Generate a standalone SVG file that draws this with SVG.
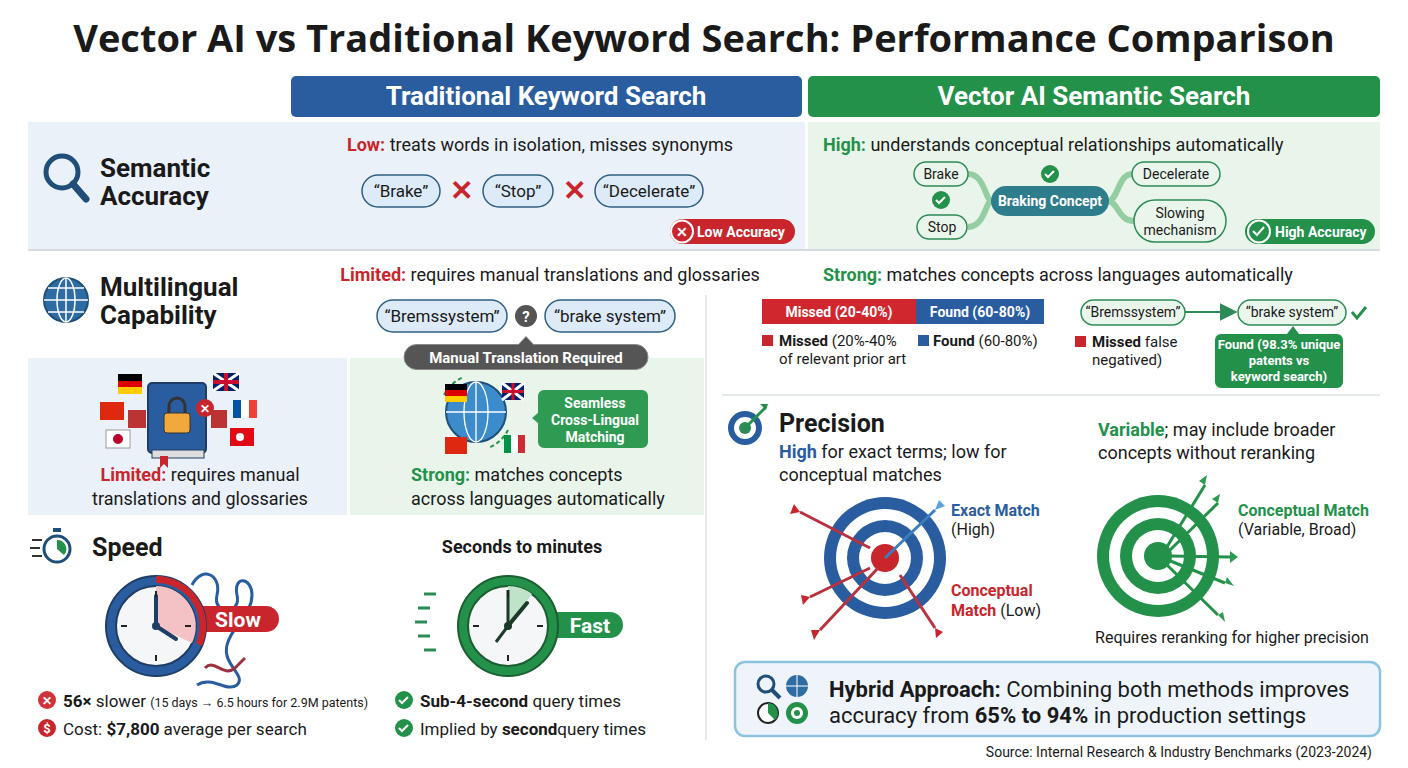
<svg xmlns="http://www.w3.org/2000/svg" width="1408" height="768" viewBox="0 0 1408 768">
<defs>
<style>
text{font-family:Roboto,"Liberation Sans",sans-serif;fill:#1a1a1a}
.t{font-size:18px}
.b{font-weight:bold}
.red{fill:#C8252C}.grn{fill:#23914A}.blu{fill:#2A5DA0}
.pill{fill:#DCEBF7;stroke:#2F5F80;stroke-width:1.5}
.gpill{fill:#EAF6EC;stroke:#2E8B57;stroke-width:1.5}
.hd{font-size:26px;font-weight:bold;fill:#fff}
.w{fill:#fff}
</style>
<marker id="ah" markerWidth="10" markerHeight="10" refX="8" refY="5" orient="auto"><path d="M0,0L10,5L0,10z" fill="#2E8B57"/></marker>
</defs>
<rect width="1408" height="768" fill="#fff"/>
<text x="704" y="52" text-anchor="middle" style="font-family:'Open Sans','Liberation Sans',sans-serif;font-size:38px;font-weight:bold">Vector AI vs Traditional Keyword Search: Performance Comparison</text>

<g id="headers">
<rect x="291" y="76" width="511" height="41" rx="5" fill="#2A5DA0"/>
<text x="546" y="105" text-anchor="middle" class="hd">Traditional Keyword Search</text>
<rect x="808" y="76" width="572" height="41" rx="5" fill="#23914A"/>
<text x="1094" y="105" text-anchor="middle" class="hd">Vector AI Semantic Search</text>
</g>

<g id="row-semantic">
<rect x="28" y="122" width="777" height="127" fill="#EAF1F8"/>
<rect x="808" y="122" width="572" height="127" fill="#E9F5EB"/>
<line x1="28" y1="250" x2="1380" y2="250" stroke="#d5dbe0" stroke-width="2"/>
<circle cx="62" cy="172" r="16" fill="none" stroke="#1F4E79" stroke-width="5"/>
<line x1="73" y1="184" x2="86" y2="199" stroke="#1F4E79" stroke-width="7" stroke-linecap="round"/>
<text x="100" y="177" class="b" font-size="26">Semantic</text>
<text x="100" y="205" class="b" font-size="26">Accuracy</text>
<text x="540" y="151" text-anchor="middle" class="t"><tspan class="red b">Low:</tspan> treats words in isolation, misses synonyms</text>
<rect x="362" y="175" width="78" height="32" rx="16" class="pill"/><text x="401" y="197" text-anchor="middle" font-size="17">“Brake”</text>
<text x="461" y="200" text-anchor="middle" font-size="28" class="red b">✕</text>
<rect x="483" y="175" width="70" height="32" rx="16" class="pill"/><text x="518" y="197" text-anchor="middle" font-size="17">“Stop”</text>
<text x="574" y="200" text-anchor="middle" font-size="28" class="red b">✕</text>
<rect x="595" y="175" width="108" height="32" rx="16" class="pill"/><text x="649" y="197" text-anchor="middle" font-size="17">“Decelerate”</text>
<rect x="670" y="219" width="125" height="25" rx="12.5" fill="#C8252C"/>
<circle cx="682" cy="231.5" r="11" fill="#C8252C" stroke="#fff" stroke-width="2"/>
<text x="682" y="237" text-anchor="middle" font-size="14" class="w b">✕</text>
<text x="697" y="237" font-size="14" class="w b">Low Accuracy</text>
<text x="823" y="151" class="t"><tspan class="grn b">High:</tspan> understands conceptual relationships automatically</text>
<g fill="none" stroke="#7FC48F" stroke-width="6" opacity="0.8">
<path d="M968,174 C985,174 985,201 992,201"/><path d="M968,227 C985,227 985,201 992,201"/>
<path d="M1108,201 C1118,201 1118,174 1132,174"/><path d="M1108,201 C1118,201 1118,221 1134,221"/>
</g>
<rect x="914" y="162" width="54" height="24" rx="12" class="gpill"/><text x="941" y="179" text-anchor="middle" font-size="14">Brake</text>
<rect x="917" y="215" width="50" height="24" rx="12" class="gpill"/><text x="942" y="232" text-anchor="middle" font-size="14">Stop</text>
<circle cx="941" cy="200" r="9" fill="#23914A"/><path d="M936,200l3,3l6,-6" stroke="#fff" stroke-width="2" fill="none"/>
<circle cx="1050" cy="174" r="9" fill="#23914A"/><path d="M1045,174l3,3l6,-6" stroke="#fff" stroke-width="2" fill="none"/>
<rect x="991" y="186" width="118" height="30" rx="15" fill="#2E7D8C"/><text x="1050" y="206" text-anchor="middle" font-size="14" class="w b">Braking Concept</text>
<rect x="1132" y="162" width="88" height="24" rx="12" class="gpill"/><text x="1176" y="179" text-anchor="middle" font-size="14">Decelerate</text>
<rect x="1134" y="200" width="92" height="42" rx="21" class="gpill"/><text x="1180" y="218" text-anchor="middle" font-size="14">Slowing</text><text x="1180" y="235" text-anchor="middle" font-size="14">mechanism</text>
<rect x="1245" y="219" width="130" height="25" rx="12.5" fill="#23914A"/>
<circle cx="1259" cy="231.5" r="11" fill="#23914A" stroke="#fff" stroke-width="2"/>
<path d="M1253,231l4,4l7,-8" stroke="#fff" stroke-width="2" fill="none"/>
<text x="1275" y="237" font-size="14" class="w b">High Accuracy</text>
</g>

<g id="multilingual-panels">
<rect x="28" y="358" width="319" height="157" fill="#EAF1F8"/>
<rect x="350" y="358" width="354" height="157" fill="#E9F5EB"/>
<rect x="148" y="383" width="58" height="70" rx="4" fill="#2A5DA0" stroke="#1F3E66" stroke-width="2"/>
<rect x="152" y="450" width="52" height="8" fill="#ddd" stroke="#1F3E66"/>
<path d="M160,456v12l4,-4l4,4v-12z" fill="#C8252C"/>
<path d="M169,414v-8a8,8 0 0 1 16,0v8" fill="none" stroke="#333" stroke-width="3"/>
<rect x="164" y="413" width="26" height="20" rx="3" fill="#F2A93B" stroke="#333"/>
<circle cx="205" cy="408" r="9" fill="#C8252C"/><text x="205" y="413" text-anchor="middle" font-size="12" class="w b">✕</text>
<rect x="128" y="410" width="18" height="18" fill="#B33"/><rect x="211" y="410" width="16" height="18" fill="#B33"/>
<rect x="118" y="374" width="24" height="7" fill="#000"/><rect x="118" y="381" width="24" height="6" fill="#D00"/><rect x="118" y="387" width="24" height="7" fill="#FC0"/>
<rect x="100" y="402" width="24" height="18" fill="#DE2910"/>
<rect x="106" y="430" width="24" height="18" fill="#fff" stroke="#999"/><circle cx="118" cy="439" r="5" fill="#BC002D"/>
<rect x="213" y="373" width="26" height="18" fill="#012169"/><path d="M213,373l26,18M239,373l-26,18" stroke="#fff" stroke-width="3"/><path d="M226,373v18M213,382h26" stroke="#C8102E" stroke-width="4"/>
<rect x="233" y="400" width="8" height="18" fill="#0055A4"/><rect x="241" y="400" width="8" height="18" fill="#fff"/><rect x="249" y="400" width="8" height="18" fill="#EF4135"/>
<rect x="230" y="428" width="24" height="18" fill="#E30A17"/><circle cx="240" cy="437" r="4" fill="#fff"/>
<text x="200" y="481" text-anchor="middle" class="t"><tspan class="red b">Limited:</tspan> requires manual</text>
<text x="200" y="505" text-anchor="middle" class="t">translations and glossaries</text>
<circle cx="476" cy="412" r="30" fill="#3C8CCB" stroke="#1F4E79" stroke-width="2"/>
<g stroke="#fff" stroke-width="1.3" fill="none"><ellipse cx="476" cy="412" rx="12" ry="30"/><line x1="446" y1="412" x2="506" y2="412"/><line x1="476" y1="382" x2="476" y2="442"/></g>
<path d="M444,395a36,36 0 0 1 20,-18M508,430a36,36 0 0 1 -20,18" stroke="#23914A" stroke-width="2" fill="none" stroke-dasharray="4 3"/>
<rect x="445" y="384" width="22" height="6" fill="#000"/><rect x="445" y="390" width="22" height="6" fill="#D00"/><rect x="445" y="396" width="22" height="6" fill="#FC0"/>
<rect x="502" y="383" width="22" height="17" fill="#012169"/><path d="M502,383l22,17M524,383l-22,17" stroke="#fff" stroke-width="3"/><path d="M513,383v17M502,391.5h22" stroke="#C8102E" stroke-width="3"/>
<rect x="445" y="437" width="22" height="17" fill="#DE2910"/>
<rect x="504" y="435" width="7" height="18" fill="#009246"/><rect x="511" y="435" width="7" height="18" fill="#fff"/><rect x="518" y="435" width="7" height="18" fill="#CE2B37"/>
<path d="M544,390h98a6,6 0 0 1 6,6v46a6,6 0 0 1 -6,6h-98a6,6 0 0 1 -6,-6v-19l-6,-5l6,-5v-17a6,6 0 0 1 6,-6z" fill="#2E9A52"/>
<text x="595" y="408" text-anchor="middle" font-size="14" class="w b">Seamless</text>
<text x="595" y="425" text-anchor="middle" font-size="14" class="w b">Cross-Lingual</text>
<text x="595" y="442" text-anchor="middle" font-size="14" class="w b">Matching</text>
<text x="411" y="481" class="t"><tspan class="grn b">Strong:</tspan> matches concepts</text>
<text x="411" y="505" class="t">across languages automatically</text>
</g>

<g id="row-multilingual">
<circle cx="66" cy="300" r="22" fill="#2E6DA4" stroke="#1F4E79" stroke-width="2"/>
<g stroke="#fff" stroke-width="1.5" fill="none"><ellipse cx="66" cy="300" rx="9" ry="22"/><line x1="44" y1="300" x2="88" y2="300"/><line x1="66" y1="278" x2="66" y2="322"/><path d="M48,288h36M48,312h36"/></g>
<text x="100" y="296" class="b" font-size="26">Multilingual</text>
<text x="100" y="324" class="b" font-size="26">Capability</text>
<text x="550" y="281" text-anchor="middle" class="t"><tspan class="red b">Limited:</tspan> requires manual translations and glossaries</text>
<rect x="377" y="300" width="130" height="32" rx="16" class="pill"/><text x="442" y="322" text-anchor="middle" font-size="17">“Bremssystem”</text>
<circle cx="526" cy="316" r="11" fill="#555"/><text x="526" y="322" text-anchor="middle" font-size="15" class="w b">?</text>
<rect x="545" y="300" width="130" height="32" rx="16" class="pill"/><text x="610" y="322" text-anchor="middle" font-size="17">“brake system”</text>
<path d="M404,357 a12.5,12.5 0 0 1 12.5,-12.5 h102 l7.5,-8 l7.5,8 h102 a12.5,12.5 0 0 1 0,25 h-219 a12.5,12.5 0 0 1 -12.5,-12.5z" fill="#555" stroke="#888"/>
<text x="526" y="363" text-anchor="middle" font-size="15" class="w b">Manual Translation Required</text>
<text x="823" y="281" class="t"><tspan class="grn b">Strong:</tspan> matches concepts across languages automatically</text>
<line x1="706" y1="295" x2="706" y2="740" stroke="#dde2e6" stroke-width="1.5"/>
<rect x="762" y="299" width="154" height="25" fill="#D0272E"/><text x="839" y="317" text-anchor="middle" font-size="14" class="w b">Missed (20-40%)</text>
<rect x="916" y="299" width="128" height="25" fill="#2A5DA0"/><text x="980" y="317" text-anchor="middle" font-size="14" class="w b">Found (60-80%)</text>
<rect x="762" y="335" width="11" height="11" fill="#C8252C"/>
<text x="779" y="346" font-size="15"><tspan class="b">Missed</tspan> (20%-40%</text>
<text x="779" y="364" font-size="15">of relevant prior art</text>
<rect x="918" y="335" width="11" height="11" fill="#2A5DA0"/>
<text x="933" y="346" font-size="15"><tspan class="b">Found</tspan> (60-80%)</text>
<rect x="1075" y="336" width="11" height="11" fill="#C8252C"/>
<text x="1092" y="347" font-size="15"><tspan class="b">Missed</tspan> false</text>
<text x="1092" y="365" font-size="15">negatived)</text>
<rect x="1081" y="300" width="104" height="25" rx="12.5" class="gpill"/><text x="1133" y="317" text-anchor="middle" font-size="14">“Bremssystem”</text>
<line x1="1185" y1="312" x2="1234" y2="312" stroke="#2E8B57" stroke-width="1.8" marker-end="url(#ah)"/>
<rect x="1238" y="300" width="108" height="25" rx="12.5" class="gpill"/><text x="1292" y="317" text-anchor="middle" font-size="14">“brake system”</text>
<path d="M1352,312l5,6l9,-11" stroke="#23914A" stroke-width="3" fill="none"/>
<path d="M1215,340 a6,6 0 0 1 6,-6 h66 l6,-8 l6,8 h38 a6,6 0 0 1 6,6 v42 a6,6 0 0 1 -6,6 h-116 a6,6 0 0 1 -6,-6z" fill="#23914A"/>
<text x="1279" y="349" text-anchor="middle" font-size="13" class="w b">Found (98.3% unique</text>
<text x="1279" y="365" text-anchor="middle" font-size="13" class="w b">patents vs</text>
<text x="1279" y="381" text-anchor="middle" font-size="13" class="w b">keyword search)</text>
</g>

<g id="speed">
<circle cx="57" cy="549" r="13" fill="#fff" stroke="#1F4E79" stroke-width="3"/>
<path d="M57,549v-9a9,9 0 0 1 7,15z" fill="#23914A"/>
<rect x="53" y="528" width="8" height="4" fill="#1F4E79"/>
<path d="M32,540h10M30,548h10M32,556h10" stroke="#333" stroke-width="2"/>
<text x="92" y="556" class="b" font-size="25">Speed</text>
<text x="522" y="553" text-anchor="middle" class="b" font-size="18">Seconds to minutes</text>
<path d="M192,585c10,-20 30,-10 25,10c-5,20 25,20 20,0c-4,-20 15,-18 15,0c0,20 -20,30 -25,50c-5,20 20,30 10,40c-10,8 -25,-10 -40,0" fill="none" stroke="#2A5DA0" stroke-width="3"/>
<path d="M205,668c10,-10 18,10 30,0l10,-10" fill="none" stroke="#9C3040" stroke-width="3"/>
<path d="M180,606h86a13,13 0 0 1 0,26h-86z" fill="#C8252C"/>
<circle cx="156" cy="626" r="50" fill="#2A5DA0" stroke="#1F3E66" stroke-width="2"/>
<circle cx="156" cy="626" r="40" fill="#F5F6F7" stroke="#1F3E66" stroke-width="2"/>
<path d="M156,586a40,40 0 0 1 36,57l-36,-17z" fill="#F4C2C4"/>
<path d="M156,576a50,50 0 0 1 46,70l-6,-3a43,43 0 0 0 -40,-60z" fill="#C8252C"/>
<text x="238" y="627" text-anchor="middle" font-size="21" class="w b">Slow</text>
<line x1="156" y1="626" x2="156" y2="596" stroke="#1F3E66" stroke-width="4" stroke-linecap="round"/>
<line x1="156" y1="626" x2="176" y2="639" stroke="#1F3E66" stroke-width="4" stroke-linecap="round"/>
<circle cx="156" cy="626" r="4" fill="#1F3E66"/>
<path d="M156,591v6M156,655v6M121,626h6M185,626h6" stroke="#222" stroke-width="2"/>
<path d="M424,594h12M418,608h12M415,622h12M418,636h12M424,650h12" stroke="#2E8B57" stroke-width="3"/>
<path d="M540,612h70a13,13 0 0 1 0,26h-70z" fill="#23914A"/>
<circle cx="508" cy="626" r="50" fill="#23914A" stroke="#1B5E32" stroke-width="2"/>
<circle cx="508" cy="626" r="40" fill="#F5F6F7" stroke="#1B5E32" stroke-width="2"/>
<path d="M508,586a40,40 0 0 1 24,8l-24,32z" fill="#BFE3C8"/>
<line x1="508" y1="626" x2="508" y2="590" stroke="#1B3A2A" stroke-width="3"/>
<line x1="508" y1="626" x2="527" y2="603" stroke="#1B3A2A" stroke-width="4" stroke-linecap="round"/>
<line x1="508" y1="626" x2="496" y2="642" stroke="#1B3A2A" stroke-width="3"/>
<circle cx="508" cy="626" r="4" fill="#1B3A2A"/>
<path d="M508,591v6M508,655v6M473,626h6M537,626h6" stroke="#222" stroke-width="2"/>
<text x="590" y="633" text-anchor="middle" font-size="21" class="w b">Fast</text>
<circle cx="47" cy="700" r="9" fill="#D0343A"/><text x="47" y="705" text-anchor="middle" font-size="12" class="w b">✕</text>
<text x="63" y="707" font-size="17"><tspan class="b">56×</tspan> slower <tspan font-size="12.5">(15 days → 6.5 hours for 2.9M patents)</tspan></text>
<circle cx="47" cy="728" r="9" fill="#C8252C"/><text x="47" y="733" text-anchor="middle" font-size="13" class="w b">$</text>
<text x="63" y="735" font-size="17">Cost: <tspan class="b">$7,800</tspan> average per search</text>
<circle cx="404" cy="700" r="9" fill="#23914A"/><path d="M399,700l3,3l6,-6" stroke="#fff" stroke-width="2" fill="none"/>
<text x="420" y="707" font-size="17"><tspan class="b">Sub-4-second</tspan> query times</text>
<circle cx="404" cy="728" r="9" fill="#23914A"/><path d="M399,728l3,3l6,-6" stroke="#fff" stroke-width="2" fill="none"/>
<text x="420" y="735" font-size="17">Implied by <tspan class="b">second</tspan>query times</text>
</g>

<g id="precision">
<line x1="722" y1="395" x2="1380" y2="395" stroke="#dde2e6" stroke-width="1.5"/>
<circle cx="745" cy="428" r="17" fill="#2A5DA0"/><circle cx="745" cy="428" r="11" fill="#fff"/><circle cx="745" cy="428" r="6" fill="#2E8B57"/>
<path d="M745,428l20,-20" stroke="#23914A" stroke-width="3"/><path d="M760,404l8,0l-2,6z" fill="#23914A"/>
<text x="779" y="432" class="b" font-size="25">Precision</text>
<text x="779" y="458" class="t"><tspan class="blu b">High</tspan> for exact terms; low for</text>
<text x="779" y="481" class="t">conceptual matches</text>
<text x="1098" y="436" class="t"><tspan class="grn b">Variable</tspan>; may include broader</text>
<text x="1098" y="459" class="t">concepts without reranking</text>
<circle cx="885" cy="558" r="61" fill="#2A5DA0"/><circle cx="885" cy="558" r="49" fill="#fff"/>
<circle cx="885" cy="558" r="38" fill="#2A5DA0"/><circle cx="885" cy="558" r="26" fill="#fff"/>
<circle cx="885" cy="558" r="14" fill="#C8252C"/>
<g stroke="#B83240" stroke-width="3" fill="none">
<line x1="800" y1="512" x2="870" y2="548"/><line x1="810" y1="597" x2="870" y2="568"/>
<line x1="820" y1="630" x2="878" y2="568"/><line x1="935" y1="628" x2="900" y2="575"/>
</g>
<g fill="#C8252C"><path d="M800,512l-6,-8l-4,10z"/><path d="M810,597l-9,-2l2,10z"/><path d="M820,630l-9,0l3,10z"/><path d="M935,628l1,10l7,-6z"/></g>
<line x1="885" y1="558" x2="935" y2="510" stroke="#3C7DC0" stroke-width="3"/><path d="M935,510l4,-10l6,6z" fill="#5EA3DC"/>
<text x="951" y="516" class="blu b" font-size="16">Exact Match</text><text x="951" y="535" font-size="16">(High)</text>
<text x="951" y="596" class="red b" font-size="16">Conceptual</text><text x="951" y="616" font-size="16"><tspan class="red b">Match</tspan> (Low)</text>
<circle cx="1158" cy="556" r="61" fill="#23914A"/><circle cx="1158" cy="556" r="49" fill="#fff"/>
<circle cx="1158" cy="556" r="38" fill="#23914A"/><circle cx="1158" cy="556" r="26" fill="#fff"/>
<circle cx="1158" cy="556" r="14" fill="#23914A"/>
<g stroke="#23914A" stroke-width="3"><line x1="1165" y1="550" x2="1205" y2="485"/><line x1="1168" y1="552" x2="1218" y2="503"/><line x1="1170" y1="556" x2="1230" y2="557"/><line x1="1168" y1="560" x2="1225" y2="583"/><line x1="1165" y1="563" x2="1218" y2="615"/></g>
<g fill="#2E9A52"><path d="M1205,485l-6,-4l8,-6z"/><path d="M1218,503l-6,-4l8,-5z"/><path d="M1230,557l0,-6l8,6l-8,6z"/><path d="M1225,583l2,-6l7,9z"/><path d="M1218,615l5,-3l2,10z"/></g>
<text x="1238" y="516" class="grn b" font-size="16">Conceptual Match</text><text x="1238" y="535" font-size="16">(Variable, Broad)</text>
<text x="1232" y="643" text-anchor="middle" font-size="16">Requires reranking for higher precision</text>
</g>

<g id="hybrid">
<rect x="735" y="662" width="645" height="74" rx="10" fill="#EEF4FA" stroke="#8CC3E0" stroke-width="2.5"/>
<circle cx="766" cy="684" r="8" fill="none" stroke="#1F4E79" stroke-width="3"/><line x1="772" y1="690" x2="780" y2="698" stroke="#1F4E79" stroke-width="4"/>
<circle cx="797" cy="686" r="11" fill="#2E6DA4"/><path d="M786,686h22M797,675v22" stroke="#fff"/>
<circle cx="768" cy="713" r="10" fill="#fff" stroke="#222" stroke-width="2"/><path d="M768,713v-10a10,10 0 0 1 7,17z" fill="#23914A"/>
<circle cx="797" cy="713" r="11" fill="#23914A"/><circle cx="797" cy="713" r="6" fill="#fff"/><circle cx="797" cy="713" r="3" fill="#23914A"/>
<text x="829" y="697" font-size="22"><tspan class="b">Hybrid Approach:</tspan> Combining both methods improves</text>
<text x="829" y="723" font-size="22">accuracy from <tspan class="b">65% to 94%</tspan> in production settings</text>
</g>
<text x="1372" y="757" text-anchor="end" font-size="14">Source: Internal Research &amp; Industry Benchmarks (2023-2024)</text>
</svg>
